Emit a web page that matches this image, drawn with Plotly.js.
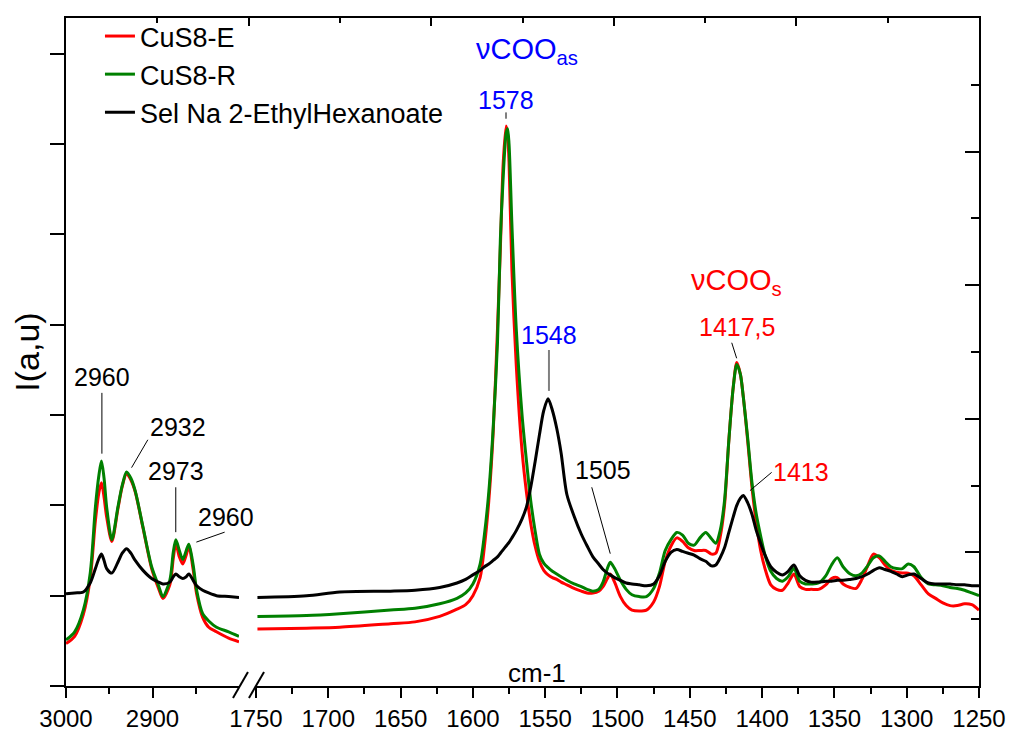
<!DOCTYPE html>
<html>
<head>
<meta charset="utf-8">
<script src="https://cdn.plot.ly/plotly-3.0.1.min.js"></script>
<style>html,body{margin:0;padding:0;background:#fff;}#chart{width:1009px;height:731px;}</style>
</head>
<body>
<div id="chart"></div>
<script>
// ---- Data (wavenumber in cm-1, intensity in arbitrary units) ----
const wnLeft = [3000, 2990, 2980, 2972, 2966, 2962, 2959, 2956, 2953, 2947,
  2940, 2935, 2930, 2925, 2920, 2911, 2901, 2893, 2888, 2880,
  2876, 2873, 2869, 2865, 2861, 2858, 2853, 2849, 2842, 2835,
  2826, 2812, 2800];
const cusELeft = [0.47,0.55,0.79,1.19,1.83,2.14,2.25,2.09,1.87,1.60,
  1.96,2.21,2.35,2.28,2.15,1.75,1.30,1.08,0.97,1.12,
  1.41,1.58,1.43,1.35,1.45,1.55,1.29,1.02,0.76,0.65,
  0.60,0.53,0.49];
const cusRLeft = [0.51,0.60,0.84,1.25,1.98,2.33,2.49,2.30,1.98,1.62,
  1.98,2.22,2.37,2.30,2.16,1.76,1.32,1.11,0.99,1.17,
  1.48,1.62,1.50,1.40,1.50,1.57,1.34,1.06,0.80,0.72,
  0.65,0.60,0.55];
const selNaLeft = [1.02,1.03,1.04,1.14,1.30,1.41,1.46,1.39,1.30,1.25,
  1.37,1.47,1.52,1.47,1.39,1.28,1.19,1.15,1.13,1.15,
  1.21,1.24,1.21,1.19,1.21,1.24,1.17,1.11,1.06,1.03,
  1.00,0.99,0.98];

const wnRight = [1749,1715,1692,1657,1640,1623,1611,1605,1600,1595,
  1592,1589,1586,1583,1581,1579,1577,1576,1575,1573,
  1570,1566,1563,1560,1557,1554,1551,1548,1545,1542,
  1539,1535,1530,1525,1521,1517,1513,1510,1507,1505,
  1502,1498,1494,1490,1485,1480,1475,1471,1467,1463,
  1459,1455,1451,1447,1443,1439,1435,1432,1429,1426,
  1423,1420,1417.5,1415,1413,1410,1407,1404,1401,1398,
  1394,1390,1386,1382,1378,1374,1370,1366,1361,1356,
  1352,1348,1344,1339,1335,1331,1327,1323,1319,1315,
  1311,1307,1303,1299,1295,1290,1285,1280,1275,1270,
  1265,1260,1255,1250];
const cusERight = [0.63,0.64,0.65,0.69,0.71,0.77,0.85,0.90,1.00,1.20,
  1.55,2.05,2.80,3.95,4.85,5.80,6.20,6.10,5.80,4.60,
  3.55,2.60,2.15,1.80,1.55,1.38,1.28,1.23,1.20,1.18,
  1.15,1.12,1.08,1.05,1.03,1.03,1.05,1.10,1.19,1.24,
  1.15,0.99,0.89,0.84,0.83,0.84,0.93,1.10,1.38,1.55,
  1.64,1.60,1.53,1.50,1.50,1.50,1.46,1.47,1.65,2.00,
  2.72,3.30,3.58,3.45,3.20,2.72,2.20,1.80,1.50,1.30,
  1.12,1.07,1.06,1.14,1.24,1.10,1.07,1.07,1.07,1.12,
  1.19,1.20,1.13,1.09,1.08,1.18,1.33,1.46,1.42,1.34,
  1.28,1.26,1.25,1.25,1.22,1.12,1.02,0.97,0.92,0.89,
  0.89,0.91,0.90,0.84];
const cusRRight = [0.77,0.78,0.80,0.84,0.86,0.91,0.97,1.03,1.13,1.35,
  1.68,2.15,2.85,3.80,4.95,5.65,6.12,6.17,6.00,5.10,
  3.95,3.00,2.50,2.05,1.72,1.46,1.36,1.31,1.27,1.24,
  1.21,1.17,1.13,1.10,1.07,1.05,1.07,1.15,1.30,1.37,
  1.30,1.17,1.07,1.01,0.99,0.99,1.08,1.25,1.50,1.62,
  1.70,1.67,1.58,1.56,1.64,1.70,1.63,1.58,1.72,2.05,
  2.72,3.30,3.56,3.45,3.20,2.75,2.25,1.90,1.66,1.45,
  1.27,1.19,1.16,1.21,1.30,1.16,1.13,1.13,1.14,1.22,
  1.34,1.42,1.32,1.24,1.22,1.25,1.33,1.42,1.44,1.38,
  1.32,1.30,1.30,1.35,1.32,1.20,1.13,1.12,1.11,1.09,
  1.08,1.06,1.03,1.00];
const selNaRight = [0.98,1.00,1.04,1.05,1.06,1.09,1.14,1.18,1.23,1.28,
  1.32,1.35,1.39,1.43,1.47,1.51,1.55,1.57,1.59,1.64,
  1.72,1.85,1.98,2.20,2.48,2.78,3.05,3.18,3.05,2.85,
  2.58,2.12,1.88,1.68,1.55,1.43,1.35,1.29,1.25,1.23,
  1.20,1.17,1.14,1.13,1.12,1.11,1.13,1.22,1.38,1.48,
  1.51,1.49,1.47,1.45,1.41,1.38,1.33,1.34,1.42,1.53,
  1.70,1.87,2.00,2.08,2.11,2.03,1.90,1.72,1.58,1.45,
  1.32,1.26,1.23,1.27,1.34,1.22,1.17,1.15,1.15,1.16,
  1.16,1.17,1.17,1.18,1.19,1.21,1.24,1.28,1.31,1.29,
  1.27,1.24,1.21,1.23,1.24,1.19,1.14,1.13,1.13,1.13,
  1.12,1.12,1.11,1.11];

const seriesNames = ['CuS8-E', 'CuS8-R', 'Sel Na 2-EthylHexanoate'];
const seriesColors = ['rgb(255,0,0)', 'rgb(0,128,0)', 'rgb(0,0,0)'];
const leftTicks = [3000, 2900];
const leftMinorTicks = [2950, 2850];

// ---- Traces ----
const leftY = [cusELeft, cusRLeft, selNaLeft];
const rightY = [cusERight, cusRRight, selNaRight];
const traces = [];
for (let i = 0; i < 3; i++) {
  traces.push({
    x: wnLeft, y: leftY[i], xaxis: 'x', yaxis: 'y', type: 'scatter', mode: 'lines',
    name: seriesNames[i], legendgroup: seriesNames[i], showlegend: false,
    line: {color: seriesColors[i], width: 3, shape: 'spline', smoothing: 0.8},
    hoverinfo: 'skip'
  });
}
for (let i = 0; i < 3; i++) {
  traces.push({
    x: wnRight, y: rightY[i], xaxis: 'x2', yaxis: 'y', type: 'scatter', mode: 'lines',
    name: seriesNames[i], legendgroup: seriesNames[i], showlegend: true,
    line: {color: seriesColors[i], width: 3, shape: 'spline', smoothing: 0.8}
  });
}
// frame helper subplots (no data)
traces.push({x: [], y: [], xaxis: 'x3', yaxis: 'y', showlegend: false, hoverinfo: 'skip', mode: 'lines'});
traces.push({x: [], y: [], xaxis: 'x2', yaxis: 'y2', showlegend: false, hoverinfo: 'skip', mode: 'lines'});

const axLine = {showline: true, linecolor: 'black', linewidth: 2, showgrid: false, zeroline: false,
  tickcolor: 'black', tickwidth: 2, automargin: false};

const FONT = 'Liberation Sans, Arial, Helvetica, sans-serif';

function lbl(x, y, xref, text, color, size) {
  return {x: x, y: y, xref: xref, yref: 'y', text: text, showarrow: false,
    font: {family: FONT, size: size || 25, color: color || 'black'}, xanchor: 'center', yanchor: 'middle'};
}
function lead(x0, y0, x1, y1, xref, color, width) {
  return {type: 'line', xref: xref, yref: 'y', x0: x0, y0: y0, x1: x1, y1: y1,
    line: {color: color || 'black', width: width || 1}};
}

const layout = {
  width: 1009, height: 731,
  margin: {l: 66, r: 30, t: 16, b: 45, pad: 0},
  paper_bgcolor: 'white', plot_bgcolor: 'rgba(0,0,0,0)',
  font: {family: FONT, color: 'black', size: 24},
  showlegend: true,
  legend: {x: 0.0372, y: 1.009, xanchor: 'left', yanchor: 'top', bgcolor: 'rgba(0,0,0,0)',
    font: {family: FONT, size: 27, color: 'black'}, tracegroupgap: 0, borderwidth: 0},
  xaxis: Object.assign({}, axLine, {domain: [0, 0.1895], range: [3000, 2800], anchor: 'y',
    ticks: 'outside', ticklen: 10, tickvals: leftTicks,
    minor: {tickvals: leftMinorTicks, ticks: 'outside', ticklen: 6, tickwidth: 2, tickcolor: 'black'},
    tickfont: {family: FONT, size: 24, color: 'black'}}),
  xaxis2: Object.assign({}, axLine, {domain: [0.2081, 1], range: [1750, 1250], anchor: 'y',
    ticks: 'outside', ticklen: 10, tick0: 1250, dtick: 50,
    minor: {dtick: 25, ticks: 'outside', ticklen: 6, tickwidth: 2, tickcolor: 'black'},
    tickfont: {family: FONT, size: 24, color: 'black'}}),
  xaxis3: Object.assign({}, axLine, {domain: [0, 1], range: [0, 5], anchor: 'y', side: 'top',
    ticks: 'inside', ticklen: 8, tick0: 0, dtick: 1, showticklabels: false,
    minor: {dtick: 0.5, ticks: 'inside', ticklen: 5, tickwidth: 2, tickcolor: 'black'}}),
  yaxis: Object.assign({}, axLine, {domain: [0, 1], range: [0, 7.395], anchor: 'x',
    ticks: 'outside', ticklen: 14, tick0: 0, dtick: 1, showticklabels: false,
    title: {text: 'I(a,u)', font: {family: FONT, size: 34, color: 'black'}, standoff: 0}}),
  yaxis2: Object.assign({}, axLine, {overlaying: 'y', anchor: 'x2', side: 'right', range: [0, 10],
    ticks: 'inside', ticklen: 14, tick0: 0, dtick: 2, showticklabels: false,
    minor: {dtick: 1, ticks: 'inside', ticklen: 8, tickwidth: 2, tickcolor: 'black'}}),
  annotations: [
    lbl(2958.5, 3.42, 'x', '2960'),
    lbl(2870.8, 2.87, 'x', '2932'),
    lbl(2873.1, 2.384, 'x', '2973'),
    lbl(2815.5, 1.876, 'x', '2960'),
    lbl(1562.6, 7.03, 'x2', 'νCOO<sub>as</sub>', 'rgb(0,0,255)', 29),
    lbl(1577.1, 6.49, 'x2', '1578', 'rgb(0,0,255)'),
    lbl(1547.4, 3.885, 'x2', '1548', 'rgb(0,0,255)'),
    lbl(1417.4, 4.47, 'x2', 'νCOO<sub>s</sub>', 'rgb(255,0,0)', 29),
    lbl(1417.4, 3.974, 'x2', '1417,5', 'rgb(255,0,0)'),
    lbl(1510.0, 2.395, 'x2', '1505'),
    lbl(1373.2, 2.373, 'x2', '1413', 'rgb(255,0,0)'),
    {x: 0.516, y: 0.0194, xref: 'paper', yref: 'paper', text: 'cm-1', showarrow: false,
     font: {family: FONT, size: 26, color: 'black'}, xanchor: 'center', yanchor: 'middle'}
  ],
  shapes: [
    lead(2958.5, 3.245, 2958.5, 2.572, 'x'),
    lead(2924.2, 2.417, 2905.4, 2.726, 'x'),
    lead(2873.1, 2.2, 2873.1, 1.703, 'x'),
    lead(2849.3, 1.593, 2816.6, 1.703, 'x'),
    lead(1577.1, 6.35, 1577.1, 6.28, 'x2'),
    lead(1547.4, 3.72, 1547.4, 3.267, 'x2', 'rgb(128,128,128)', 2),
    lead(1421.0, 3.80, 1417.6, 3.628, 'x2'),
    lead(1517.8, 2.2, 1505.0, 1.465, 'x2'),
    lead(1408.4, 2.163, 1393.4, 2.365, 'x2'),
    // axis break marks
    {type: 'line', xref: 'paper', yref: 'paper', x0: 0.1829, y0: -0.0179, x1: 0.1993, y1: 0.0209,
     line: {color: 'black', width: 2}},
    {type: 'line', xref: 'paper', yref: 'paper', x0: 0.2004, y0: -0.0179, x1: 0.2169, y1: 0.0209,
     line: {color: 'black', width: 2}}
  ]
};

Plotly.newPlot('chart', traces, layout, {displayModeBar: false, responsive: false});
</script>
</body>
</html>
